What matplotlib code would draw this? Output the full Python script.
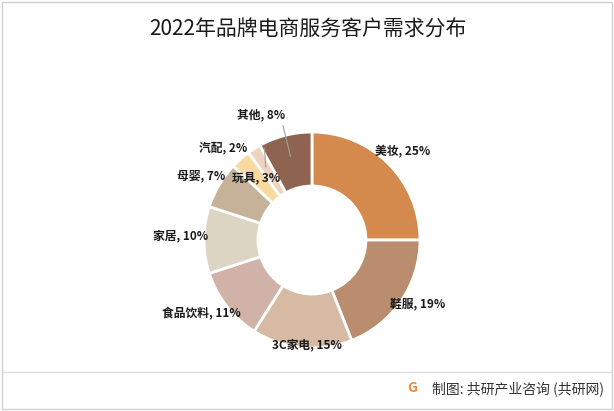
import numpy as np
import matplotlib
matplotlib.use('Agg')
import matplotlib.pyplot as plt
from matplotlib.patches import Rectangle

plt.rcParams['font.family'] = ['Noto Sans CJK SC', 'DejaVu Sans']

# data
categories = ['美妆', '鞋服', '3C家电', '食品饮料', '家居', '母婴', '玩具', '汽配', '其他']
shares = [25, 19, 15, 11, 10, 7, 3, 2, 8]
colors = ['#D4894D', '#B98D6D', '#D6BAA3', '#D1B2A8', '#DDD5C4',
          '#C5B299', '#F8D9A0', '#EDD3C0', '#8E6450']

# label placement (radius, angle in degrees) for each slice label
label_pos = [(1.17, 44), (1.14, -31), (0.97, -93), (1.23, -146), (1.22, 178),
             (1.19, 150), (0.77, 132), (1.18, 134), (1.25, 112)]

fig = plt.figure(figsize=(6.14, 4.11), dpi=100)
fig.patches.append(Rectangle((0.004, 0.004), 0.992, 0.992, transform=fig.transFigure,
                             fill=False, edgecolor='#D0D0D0', linewidth=1))
fig.add_artist(plt.Line2D([0.004, 0.996], [0.095, 0.095], transform=fig.transFigure,
                          color='#DDDDDD', linewidth=1))

ax = fig.add_axes([0.3322, 0.1533, 0.3518, 0.5255])
wedges, _ = ax.pie(shares, colors=colors, startangle=90, counterclock=False,
                   radius=1, wedgeprops=dict(width=0.5, edgecolor='white', linewidth=2))
ax.set_xlim(-1, 1)
ax.set_ylim(-1, 1)
ax.set_aspect('equal')

total = float(sum(shares))
cum = 0
for i, (cat, v) in enumerate(zip(categories, shares)):
    mid = 90 - (cum + v / 2.0) / total * 360
    cum += v
    r, a = label_pos[i]
    tx, ty = r * np.cos(np.radians(a)), r * np.sin(np.radians(a))
    txt = '%s, %d%%' % (cat, v)
    if cat in ('汽配', '其他'):
        px, py = 0.8 * np.cos(np.radians(mid)), 0.8 * np.sin(np.radians(mid))
        if cat == '汽配':
            sx, sy = tx + 0.38, ty
        else:
            sx, sy = tx + 0.2, ty - 0.1
        ax.plot([sx, px], [sy, py], color='#A0A0A0', linewidth=0.8, clip_on=False)
    ax.text(tx, ty, txt, ha='center', va='center', fontsize=8.5,
            fontweight='bold', color='#1A1A1A', clip_on=False)

fig.text(0.502, 0.927, '2022年品牌电商服务客户需求分布', ha='center', va='center',
         fontsize=15, color='#1A1A1A')
fig.text(0.672, 0.055, 'G', ha='center', va='center', fontsize=10,
         fontweight='bold', color='#F08A3C')
fig.text(0.703, 0.055, '制图: 共研产业咨询 (共研网)', ha='left', va='center',
         fontsize=10, color='#333333')

fig.savefig('out.png', dpi=100)
